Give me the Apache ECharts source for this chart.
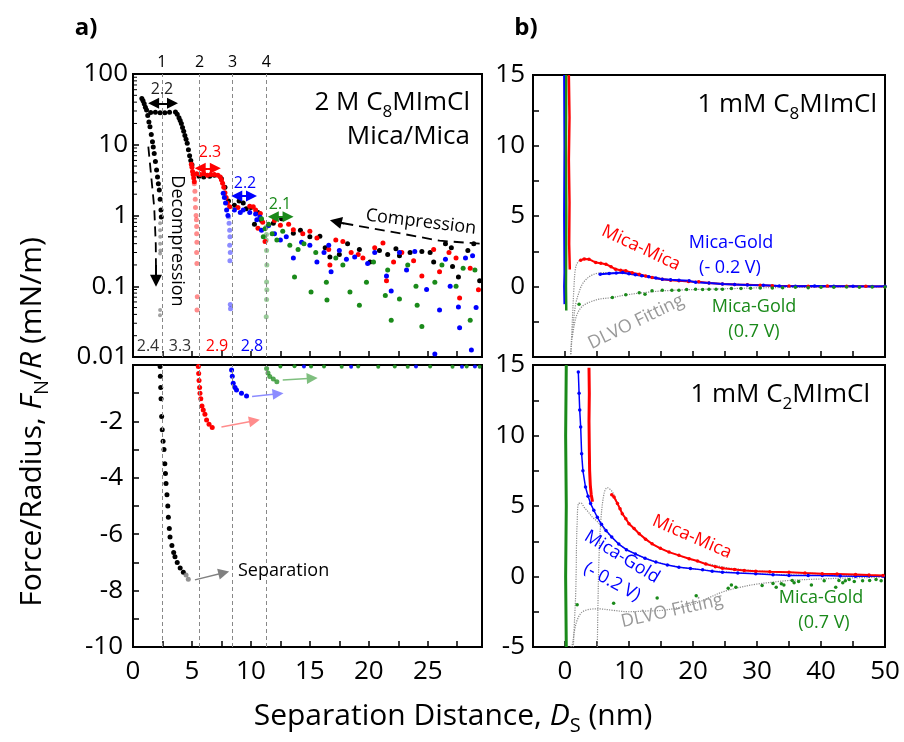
<!DOCTYPE html>
<html lang="en">
<head>
<meta charset="UTF-8">
<title>Force/Radius vs Separation Distance</title>
<script src="https://cdn.jsdelivr.net/npm/echarts@6/dist/echarts.min.js"></script>
</head>
<body style="margin: 0">
<div id="chart" style="width: 904px; height: 742px;"></div>
<script>
// ---------- panel a: 2 M C8MImCl, mica/mica ----------
const aStepX = [2.45, 5.65, 8.45, 11.3];
const aStepNames = ['1', '2', '3', '4'];

// compression (log panel)
const aBlackComp = [[0.75,45],[0.85,42],[0.95,38],[1.05,34],[1.15,31],[1.25,26],[1.35,21],[1.44,18],[1.55,14],[1.65,11],
  [1.72,9.3],[1.8,7.5],[1.9,5.8],[2.0,4.4],[2.08,3.5],[2.15,2.8],[2.23,2.3],[2.3,1.7],[2.37,1.2],[2.4,0.95],
  [1.5,28.5],[1.9,28.8],[2.3,28.4],[2.7,28.4],[3.1,28.7],
  [3.6,29],[3.75,27],[3.9,24],[4.0,22],[4.1,20],[4.2,17.5],[4.3,15.5],[4.4,13.5],[4.5,12],[4.6,10.5],[4.7,8.5],[4.8,7],[4.9,6],[5.0,5.2],
  [5.6,3.6],[6.0,3.5],[6.5,3.6],[6.9,3.7],[7.5,3.3],[7.8,2.5],[8.1,1.6],[8.6,1.4],[9.0,1.6],[9.35,1.5],[9.6,1.25],[10.0,1.3],
  [10.3,0.75],[10.6,1.1],[10.9,0.85],[11.9,0.78],[12.6,0.9],[13.6,0.56],[14.2,0.62],[15.0,0.5],[15.85,0.51],[16.3,0.35],
  [16.7,0.26],[17.5,0.28],[18.2,0.4],[19.2,0.33],[20.1,0.22],[20.9,0.32],[21.6,0.28],[22.3,0.34],[22.6,0.27],[23.5,0.3],
  [24.5,0.31],[25.2,0.3],[25.5,0.22],[26.5,0.4],[27.0,0.35],[27.1,0.19],[27.6,0.135],[28.4,0.32],[28.9,0.4],[29.4,0.12]];
const aRedComp = [[4.95,5.3],[5.0,4.8],[5.05,4.2],[5.1,3.8],[5.15,3.4],[5.2,3.0],
  [5.4,3.9],[5.7,3.8],[6.0,3.9],[6.3,3.7],[6.6,3.8],[6.9,3.8],[7.2,3.7],[7.4,3.5],
  [7.5,3.2],[7.6,2.85],[7.7,2.5],[7.8,2.1],[7.9,1.8],[8.0,1.5],[8.2,1.33],
  [8.9,1.3],[9.9,1.35],[10.2,1.33],[10.4,1.2],[10.6,0.66],[10.8,1.07],[11.0,0.8],[11.2,0.43],[12.0,0.85],[12.5,0.73],
  [13.2,0.75],[13.6,0.63],[14.4,0.55],[15.0,0.6],[15.6,0.48],[16.6,0.33],[16.7,0.2],[17.2,0.45],[17.8,0.43],[18.5,0.3],
  [19.1,0.28],[19.5,0.25],[20.5,0.35],[21.2,0.41],[21.5,0.12],[22.1,0.22],[22.8,0.3],[23.8,0.23],[24.5,0.14],[25.5,0.33],
  [26.0,0.16],[26.8,0.3],[27.4,0.25],[27.7,0.068],[28.6,0.18],[29.3,0.089]];
const aBlueComp = [[7.65,2.06],[7.75,1.8],[7.85,1.5],[7.94,1.2],[8.05,1.0],[8.6,1.2],[9.1,1.1],[9.35,1.2],[9.9,1.1],[10.4,1.05],
  [10.5,0.87],[10.76,0.95],[10.9,0.62],[11.5,0.72],[12.0,0.55],[12.5,0.45],[13.0,0.5],[13.6,0.25],[14.3,0.42],[15.0,0.38],
  [15.6,0.22],[16.2,0.3],[16.6,0.38],[16.8,0.16],[17.5,0.32],[18.1,0.24],[18.8,0.26],[19.9,0.21],[20.5,0.3],[21.5,0.14],
  [21.9,0.086],[22.6,0.3],[23.2,0.17],[23.9,0.31],[24.9,0.09],[25.6,0.011],[26.0,0.046],[26.5,0.24],[26.9,0.1],[27.6,0.051],
  [27.7,0.026],[28.2,0.25],[28.7,0.0126],[28.8,0.27],[29.1,0.05]];
const aGreenComp = [[10.9,0.9],[11.05,0.5],[11.2,0.65],[11.5,0.75],[11.8,0.55],[12.2,0.45],[12.7,0.6],[13.3,0.38],[13.7,0.135],
  [14.0,0.33],[14.5,0.4],[15.1,0.083],[15.5,0.3],[16.4,0.114],[16.45,0.064],[17.2,0.25],[17.8,0.2],[18.4,0.083],[19.2,0.054],
  [19.8,0.114],[20.4,0.22],[21.4,0.074],[21.6,0.17],[21.9,0.033],[22.6,0.066],[23.3,0.2],[24.0,0.1],[24.1,0.054],[24.5,0.027],
  [25.6,0.114],[26.2,0.2],[27.4,0.1],[28.0,0.18],[28.6,0.033],[29.0,0.17]];
// decompression (faded)
const aBlackDecomp = [[2.3,0.78],[2.3,0.62],[2.31,0.5],[2.3,0.4],[2.32,0.32],[2.3,0.29],[2.3,0.046],[2.29,0.039]];
const aRedDecomp = [[5.2,2.8],[5.25,2.2],[5.28,1.7],[5.3,1.3],[5.35,1.0],[5.38,0.87],[5.4,0.7],[5.4,0.55],[5.42,0.42],
  [5.4,0.3],[5.42,0.21],[5.45,0.071],[5.43,0.046]];
const aBlueDecomp = [[8.1,0.95],[8.15,0.78],[8.2,0.62],[8.22,0.5],[8.2,0.38],[8.25,0.3],[8.22,0.23],[8.25,0.055],[8.27,0.048]];
const aGreenDecomp = [[11.3,0.69],[11.32,0.54],[11.3,0.45],[11.33,0.32],[11.35,0.2],[11.33,0.115],[11.35,0.089],[11.33,0.065],[11.3,0.037]];

// separation (linear, negative panel)
const aBlackSep = [[2.3,-0.05],[2.32,-0.4],[2.35,-0.8],[2.38,-1.2],[2.43,-1.83],[2.48,-2.3],[2.55,-2.7],[2.63,-3.0],[2.7,-3.5],
  [2.75,-3.85],[2.8,-4.2],[2.88,-4.6],[2.95,-5.0],[3.0,-5.4],[3.08,-5.8],[3.14,-6.1],[3.3,-6.4],[3.45,-6.65],[3.56,-6.8],
  [3.75,-7.0],[4.0,-7.2],[4.27,-7.35]];
const aGreySep = [[4.5,-7.45],[4.69,-7.6]];
const aRedSep = [[5.54,-0.05],[5.57,-0.3],[5.6,-0.55],[5.65,-0.8],[5.68,-1.0],[5.75,-1.2],[5.85,-1.45],[5.96,-1.6],[6.1,-1.75],
  [6.24,-1.95],[6.45,-2.1],[6.72,-2.22]];
const aBlueSep = [[8.36,-0.18],[8.42,-0.4],[8.5,-0.65],[8.65,-0.8],[8.78,-0.89],[9.2,-1.0],[9.63,-1.1]];
const aGreenSep = [[11.33,-0.12],[11.45,-0.28],[11.6,-0.41],[11.9,-0.5],[12.2,-0.59]];
const aGreenZero = [[12.5,-0.05],[13.7,-0.04],[15.1,-0.05],[16.2,-0.05],[17.7,-0.06],[19.1,-0.05],[20.8,-0.06],[22.2,-0.05],
  [23.3,-0.06],[25.2,-0.05],[27.1,-0.06],[28.3,-0.05],[29.4,-0.06]];
const aBlueZero = [[14.5,-0.05],[18.5,-0.06],[24.0,-0.05],[27.9,-0.06],[29.0,-0.05]];

// ---------- panel b top: 1 mM C8MImCl ----------
const bTopRedStreak = [[0.6,15],[0.7,12],[0.6,9],[0.7,6],[0.65,3],[0.75,1.2]];
const bTopBlueStreak = [[-0.1,15],[-0.05,10],[-0.1,5],[-0.05,1],[-0.1,0],[-0.05,-1.25]];
const bTopGreenStreak = [[0.2,15],[0.15,10],[0.2,5],[0.15,0],[0.2,-1.7]];
const bTopRed = [[2.45,1.87],[3.0,1.95],[3.75,1.94],[4.8,1.7],[5.6,1.65],[6.4,1.58],[7.2,1.4],[7.9,1.23],[8.7,1.15],[9.5,1.11],
  [10.5,0.97],[11.6,0.87],[12.6,0.75],[13.6,0.64],[15.2,0.52],[16.5,0.45],[17.8,0.4],[19.3,0.36],[20.9,0.33],[22.5,0.25],
  [24.6,0.18],[26.5,0.14],[28.5,0.12],[30.5,0.08],[32.4,0.05],[35,0.04],[38,0.02],[41,0.03],[44,0.01],[47,0.02],[50,0.0]];
const bTopBlue = [[5.5,0.87],[6.9,0.92],[8.0,0.95],[9.0,0.99],[10.0,0.9],[11.0,0.83],[12.0,0.76],[13.1,0.69],[14.2,0.6],[15.2,0.52],
  [16.5,0.48],[17.8,0.45],[19.4,0.4],[20.4,0.3],[22.5,0.24],[24.6,0.17],[26.5,0.15],[28.5,0.1],[31,0.08],[33.5,0.04],[36,0.02],
  [39,0.03],[42,0.01],[45,0.02],[48,0.0],[50,0.01]];
const bTopGreen = [[2.2,-1.25],[7.4,-0.78],[9.5,-0.59],[11.6,-0.45],[12.5,-0.55],[13.6,-0.31],[15.2,-0.26],[16.7,-0.26],[17.8,-0.26],
  [19.0,-0.22],[20.4,-0.19],[21.5,-0.22],[22.5,-0.2],[23.6,-0.19],[24.6,-0.19],[26,-0.15],[27.5,-0.14],[29,-0.12],[30.5,-0.1],
  [32.4,-0.1],[34,-0.08],[36,-0.06],[38,-0.08],[40,-0.05],[42,-0.06],[44,-0.04],[46,-0.05],[48,-0.03],[50,-0.04]];
const bTopFitRed = [[0.9,-4.8],[1.15,-2.4],[1.4,-0.07],[1.67,1.35],[2.2,1.82],[3.2,2.0],[4.8,1.75],[6.4,1.55],[8,1.25],[10,1.0],
  [12,0.82],[15,0.56],[18,0.4],[22,0.27],[26,0.17],[30,0.1],[35,0.06],[40,0.04],[45,0.02],[50,0.01]];
const bTopFitBlue = [[0.9,-4.8],[1.3,-2.6],[1.67,-1.25],[2.2,-0.4],[2.7,0.16],[3.4,0.55],[4.3,0.83],[5.3,0.95],[6.4,0.99],[8,0.97],
  [10,0.88],[12,0.77],[15,0.55],[18,0.42],[22,0.27],[26,0.16],[30,0.1],[35,0.06],[40,0.03],[45,0.02],[50,0.01]];
const bTopFitGreen = [[1.15,-3.6],[1.5,-2.6],[1.9,-1.96],[2.5,-1.5],[3.2,-1.25],[4.2,-1.05],[5.3,-0.9],[7.4,-0.78],[9.5,-0.6],
  [12,-0.45],[15,-0.32],[18,-0.25],[22,-0.19],[26,-0.15],[30,-0.1],[35,-0.07],[40,-0.05],[45,-0.03],[50,-0.02]];

// ---------- panel b bottom: 1 mM C2MImCl ----------
const bBotGreenStreak = [[0.2,15],[0.1,10],[0.2,5],[0.1,0],[0.2,-5]];
const bBotRedStreak = [[3.75,14.8],[3.8,13],[3.75,11],[3.8,9],[3.85,7.5],[3.95,6.5],[4.1,5.8],[4.3,5.3]];
const bBotBlue = [[2.08,14.5],[2.2,13.0],[2.3,11.8],[2.45,10.6],[2.6,8.7],[2.8,7.5],[3.2,6.35],[3.6,5.7],[4.0,5.17],[4.5,4.7],
  [5.05,4.2],[5.7,3.7],[6.4,3.27],[7.3,2.8],[8.4,2.3],[9.6,1.9],[11.0,1.6],[12.5,1.3],[14.2,1.02],[16,0.82],[17.8,0.66],
  [19.6,0.56],[21.5,0.47],[23,0.38],[24.6,0.31],[27,0.25],[29.8,0.19],[32.5,0.12],[35,0.07],[38,0.07],[40.2,0.07],[43,0.04],
  [45.4,0.02],[47.5,0.03],[49.7,0.02]];
const bBotRed = [[7.3,5.8],[7.66,5.64],[8.2,5.17],[8.6,4.8],[8.95,4.45],[9.5,4.1],[10.0,3.74],[10.8,3.4],[11.6,3.03],[12.6,2.65],
  [13.6,2.32],[14.9,2.0],[16.25,1.73],[17.8,1.5],[19.4,1.26],[20.7,1.1],[22,0.88],[23.5,0.7],[24.6,0.58],[26.5,0.5],[28,0.43],
  [29.8,0.38],[32,0.34],[35,0.31],[37.5,0.25],[40.2,0.2],[42.5,0.18],[45.4,0.15],[47.5,0.1],[49.7,0.07]];
const bBotGreen = [[1.9,-2.0],[7.6,-1.9],[14.4,-1.52],[20.5,-1.37],[25.5,-0.83],[26.0,-0.6],[26.7,-0.76],[30.8,-0.64],[32.5,-0.5],
  [33.0,-0.76],[33.8,-0.52],[34.2,-0.6],[35.5,-0.28],[35.8,-0.45],[36.5,-0.35],[38.5,-0.6],[40.5,-0.3],[42.3,-0.76],[42.8,-0.28],
  [43.4,-0.45],[43.8,-0.3],[44.4,-0.22],[45.2,-0.35],[46.5,-0.3],[47.6,-0.28],[48.6,-0.22],[49.4,-0.3]];
const bBotFitBlue = [[1.3,-5],[1.5,-3],[1.67,-1.23],[1.75,0.5],[1.8,2.3],[1.9,3.8],[2.1,5.17],[2.5,5.2],[3.0,4.9],[3.6,4.6],
  [4.3,4.2],[5.05,3.9],[6.4,3.2],[8.4,2.3],[11,1.6],[14.2,1.05],[18,0.66],[22,0.45],[26,0.3],[30,0.2],[35,0.12],[40,0.07],
  [45,0.04],[50,0.02]];
const bBotFitRed = [[5.05,-5],[5.15,-2],[5.3,1.14],[5.6,3.98],[6.1,5.88],[6.6,6.3],[7.4,6.0],[8.2,5.2],[9.0,4.5],[10,3.75],
  [11.6,3.0],[13.6,2.3],[16.25,1.75],[19.4,1.25],[22,0.95],[25,0.65],[28,0.48],[32,0.35],[36,0.28],[40,0.2],[45,0.12],[50,0.06]];
const bBotFitGreen = [[0.9,-5],[1.15,-4.8],[1.5,-3.8],[1.9,-3.1],[2.5,-2.6],[3.2,-2.4],[4.5,-2.3],[5.3,-2.3],[7.5,-2.4],[10,-2.5],
  [12.5,-2.45],[15.2,-2.4],[17.8,-2.2],[20.4,-1.9],[22.5,-1.5],[24.6,-1.1],[27,-0.8],[29.8,-0.55],[32.5,-0.4],[35,-0.28],
  [40.2,-0.17],[45,-0.1],[49.7,-0.05]];

const FONT = 'Open Sans';
const RED = '#ff0000', BLUE = '#0000ff', GREEN = '#1a8a1a', BLACK = '#000000', GREY = '#999999';

const chart = echarts.init(document.getElementById('chart'));

const grids = [
  { left: 133, top: 74, width: 349, height: 283 },
  { left: 133, top: 365, width: 349, height: 282 },
  { left: 533, top: 75, width: 352, height: 282 },
  { left: 533, top: 365, width: 352, height: 282 }
].map(g => Object.assign(g, { show: true, borderColor: '#000', borderWidth: 2, backgroundColor: 'transparent' }));

const tick = { inside: true, length: 6, lineStyle: { color: '#000', width: 1.5 } };
const line = { onZero: false, lineStyle: { color: '#000', width: 2 } };
const lab = { color: '#000', fontSize: 26, fontFamily: FONT };

const xAxes = [
  { gridIndex: 0, type: 'value', min: 0, max: 29.6, interval: 2.5, axisLabel: { show: false } },
  { gridIndex: 1, type: 'value', min: 0, max: 29.6, interval: 2.5,
    axisLabel: Object.assign({ margin: 12, formatter: v => (v % 5 === 0 ? String(v) : '') }, lab) },
  { gridIndex: 2, type: 'value', min: -5, max: 50, interval: 5, axisLabel: { show: false } },
  { gridIndex: 3, type: 'value', min: -5, max: 50, interval: 5,
    axisLabel: Object.assign({ margin: 12, formatter: v => (v % 10 === 0 ? String(v) : '') }, lab) }
].map(a => Object.assign(a, { axisTick: tick, axisLine: line, splitLine: { show: false } }));

const yAxes = [
  { gridIndex: 0, type: 'log', logBase: 10, min: 0.01, max: 100,
    axisLabel: Object.assign({ margin: 5, formatter: v => String(+(+v).toPrecision(3)) }, lab) },
  { gridIndex: 1, type: 'value', min: -10, max: 0, interval: 1,
    axisLabel: Object.assign({ margin: 10, formatter: v => (v % 2 === 0 && v !== 0 ? String(v) : '') }, lab) },
  { gridIndex: 2, type: 'value', min: -5, max: 15, interval: 2.5,
    axisLabel: Object.assign({ margin: 8, formatter: v => (v % 5 === 0 && v !== -5 ? String(v) : '') }, lab) },
  { gridIndex: 3, type: 'value', min: -5, max: 15, interval: 2.5,
    axisLabel: Object.assign({ margin: 8, formatter: v => (v % 5 === 0 ? String(v) : '') }, lab) }
].map(a => Object.assign(a, { axisTick: tick, axisLine: line, splitLine: { show: false } }));

// minor ticks for the log axis (2..9 per decade)
const logMinor = [];
[0.01, 0.1, 1, 10].forEach(d => { for (let k = 2; k <= 9; k++) logMinor.push([0, +(d * k).toPrecision(2)]); });

function scatter(data, color, i, opacity, size) {
  return { type: 'scatter', xAxisIndex: i, yAxisIndex: i, data: data, symbolSize: size || 5, silent: true, z: 4,
    itemStyle: { color: color, opacity: opacity == null ? 1 : opacity } };
}
function curve(data, color, i, width, sym) {
  return { type: 'line', xAxisIndex: i, yAxisIndex: i, data: data, silent: true, z: 3,
    showSymbol: !!sym, symbol: 'circle', symbolSize: sym || 0,
    itemStyle: { color: color }, lineStyle: { color: color, width: width } };
}
function fit(data, i) {
  return { type: 'line', xAxisIndex: i, yAxisIndex: i, data: data, silent: true, z: 2, showSymbol: false,
    smooth: 0.35, lineStyle: { color: '#8c8c8c', width: 1.2, type: 'dotted' } };
}
function arrows(i, items, symbol, size, dashed) {
  return { type: 'lines', coordinateSystem: 'cartesian2d', xAxisIndex: i, yAxisIndex: i, silent: true, z: 5,
    symbol: symbol, symbolSize: size,
    data: items.map(a => ({ coords: a.c, lineStyle: { color: a.col, width: a.w || 2, type: dashed ? [9, 6] : 'solid', opacity: 1 } })),
    polyline: false };
}
function polyline(i, coords, color) {
  return { type: 'lines', coordinateSystem: 'cartesian2d', xAxisIndex: i, yAxisIndex: i, silent: true, z: 5, polyline: true,
    data: [{ coords: coords }], lineStyle: { color: color, width: 1.8, type: [10, 6], opacity: 1 } };
}
function stepLines(withLabel) {
  return { silent: true, symbol: 'none', animation: false,
    lineStyle: { color: '#888', width: 1, type: [4, 3] },
    label: { show: withLabel, position: 'end', distance: 4, formatter: '{b}', color: '#000', fontSize: 16, fontFamily: FONT },
    data: aStepX.map((v, k) => ({ xAxis: v, name: aStepNames[k] })) };
}

const series = [
  // panel a top
  Object.assign(scatter(aBlackDecomp, '#555', 0, 0.55, 4), { markLine: stepLines(true) }),
  scatter(aRedDecomp, RED, 0, 0.45, 5),
  scatter(aBlueDecomp, BLUE, 0, 0.45, 5),
  scatter(aGreenDecomp, GREEN, 0, 0.45, 5),
  scatter(aBlackComp, BLACK, 0),
  scatter(aRedComp, RED, 0),
  scatter(aBlueComp, BLUE, 0),
  scatter(aGreenComp, GREEN, 0),
  { type: 'custom', xAxisIndex: 0, yAxisIndex: 0, data: logMinor, silent: true, z: 6,
    renderItem: (p, api) => {
      const pt = api.coord([api.value(0), api.value(1)]);
      return { type: 'line', shape: { x1: pt[0], y1: pt[1], x2: pt[0] + 4, y2: pt[1] }, style: { stroke: '#000', lineWidth: 1 } };
    } },
  arrows(0, [
    { c: [[1.75, 38.5], [3.35, 38.5]], col: BLACK },
    { c: [[5.7, 4.64], [6.98, 4.64]], col: RED },
    { c: [[8.8, 1.89], [10.05, 1.89]], col: BLUE },
    { c: [[11.9, 0.96], [13.15, 0.96]], col: GREEN }
  ], ['triangle', 'triangle'], 11),
  polyline(0, [[1.3, 9.4], [1.55, 3.5], [1.8, 1.3], [1.93, 0.4], [1.95, 0.17]], BLACK),
  arrows(0, [{ c: [[1.95, 0.2], [1.95, 0.12]], col: BLACK }], ['none', 'triangle'], 12),
  polyline(0, [[29.4, 0.40], [26, 0.44], [22.9, 0.55], [19.8, 0.68], [17.6, 0.79]], BLACK),
  arrows(0, [{ c: [[17.9, 0.77], [17.2, 0.82]], col: BLACK }], ['none', 'triangle'], 12),
  // panel a bottom
  Object.assign(scatter(aBlackSep, BLACK, 1), { markLine: stepLines(false) }),
  scatter(aGreySep, '#777', 1, 0.8),
  scatter(aRedSep, RED, 1),
  scatter(aBlueSep, BLUE, 1),
  scatter(aGreenSep, GREEN, 1, 0.75),
  scatter(aGreenZero, GREEN, 1, 0.9, 4),
  scatter(aBlueZero, BLUE, 1, 0.9, 4),
  arrows(1, [
    { c: [[12.7, -0.53], [15.2, -0.47]], col: '#7fbf7f', w: 1.5 },
    { c: [[10.1, -1.12], [12.3, -1.02]], col: '#8c8cff', w: 1.5 },
    { c: [[7.5, -2.2], [10.3, -1.98]], col: '#ff8c8c', w: 1.5 },
    { c: [[5.25, -7.62], [7.7, -7.37]], col: '#808080', w: 1.5 }
  ], ['none', 'triangle'], 11),
  // panel b top
  fit(bTopFitRed, 2), fit(bTopFitBlue, 2), fit(bTopFitGreen, 2),
  curve(bTopBlueStreak, BLUE, 2, 2.5),
  curve(bTopGreenStreak, GREEN, 2, 2.5),
  curve(bTopRedStreak, RED, 2, 2.5),
  curve(bTopRed, RED, 2, 2, 3.5),
  curve(bTopBlue, BLUE, 2, 2, 3.5),
  scatter(bTopGreen, GREEN, 2, 1, 3.5),
  // panel b bottom
  fit(bBotFitBlue, 3), fit(bBotFitRed, 3), fit(bBotFitGreen, 3),
  curve(bBotGreenStreak, GREEN, 3, 3),
  curve(bBotRedStreak, RED, 3, 3),
  curve(bBotBlue, BLUE, 3, 1.5, 3.5),
  curve(bBotRed, RED, 3, 2, 3.5),
  scatter(bBotGreen, GREEN, 3, 1, 3.5)
];

// text annotations (pixel placed)
const sub = (size, lh, extra) => Object.assign({ fontSize: size, fontFamily: FONT, lineHeight: lh, verticalAlign: 'bottom' }, extra || {});
const notes = [
  { t: 'a)', x: 86, y: 28, size: 24, bold: true },
  { t: 'b)', x: 526, y: 28, size: 24, bold: true },
  { t: '2 M C{s|8}MImCl', x: 470, y: 103, size: 26, align: 'right', rich: { s: sub(17, 36) } },
  { t: 'Mica/Mica', x: 470, y: 137, size: 26, align: 'right' },
  { t: '2.2', x: 162, y: 89, size: 16, c: '#222' },
  { t: '2.3', x: 210, y: 152, size: 16, c: RED },
  { t: '2.2', x: 245, y: 183, size: 16, c: BLUE },
  { t: '2.1', x: 280, y: 204, size: 16, c: GREEN },
  { t: '2.4', x: 148, y: 346, size: 16, c: '#333' },
  { t: '3.3', x: 180, y: 346, size: 16, c: '#333' },
  { t: '2.9', x: 217, y: 346, size: 16, c: RED },
  { t: '2.8', x: 252, y: 346, size: 16, c: BLUE },
  { t: 'Decompression', x: 177, y: 241, size: 18, rot: -Math.PI / 2 },
  { t: 'Compression', x: 421, y: 222, size: 18, rot: -0.12 },
  { t: 'Separation', x: 238, y: 571, size: 18, align: 'left' },
  { t: '1 mM C{s|8}MImCl', x: 877, y: 105, size: 26, align: 'right', rich: { s: sub(17, 36) } },
  { t: 'Mica-Mica', x: 641, y: 248, size: 18, c: RED, rot: -0.44 },
  { t: 'Mica-Gold', x: 731, y: 243, size: 18, c: BLUE },
  { t: '(- 0.2 V)', x: 730, y: 268, size: 18, c: BLUE },
  { t: 'DLVO Fitting', x: 636, y: 322, size: 18, c: GREY, rot: 0.45 },
  { t: 'Mica-Gold', x: 754, y: 307, size: 18, c: GREEN },
  { t: '(0.7 V)', x: 754, y: 332, size: 18, c: GREEN },
  { t: '1 mM C{s|2}MImCl', x: 870, y: 395, size: 26, align: 'right', rich: { s: sub(17, 36) } },
  { t: 'Mica-Mica', x: 692, y: 537, size: 18, c: RED, rot: -0.41 },
  { t: 'Mica-Gold', x: 622, y: 557, size: 18, c: BLUE, rot: -0.55 },
  { t: '(- 0.2 V)', x: 612, y: 582, size: 18, c: BLUE, rot: -0.5 },
  { t: 'DLVO Fitting', x: 672, y: 611, size: 18, c: GREY, rot: 0.22 },
  { t: 'Mica-Gold', x: 821, y: 598, size: 18, c: GREEN },
  { t: '(0.7 V)', x: 824, y: 623, size: 18, c: GREEN },
  { t: 'Force/Radius, {i|F}{s|N}/{i|R} (mN/m)', x: 32, y: 422, size: 30, rot: Math.PI / 2,
    rich: { i: { fontSize: 30, fontFamily: FONT, fontStyle: 'italic', fill: '#000' }, s: sub(20, 40, { fill: '#000' }) } },
  { t: 'Separation Distance, {i|D}{s|S} (nm)', x: 453, y: 716, size: 30,
    rich: { i: { fontSize: 30, fontFamily: FONT, fontStyle: 'italic', fill: '#000' }, s: sub(20, 40, { fill: '#000' }) } }
];

const graphic = notes.map(n => ({
  type: 'text', x: n.x, y: n.y, rotation: n.rot || 0, silent: true, z: 10,
  style: {
    text: n.t, fill: n.c || '#000',
    font: (n.bold ? 'bold ' : '') + n.size + 'px "' + FONT + '"',
    fontSize: n.size, fontFamily: FONT, fontWeight: n.bold ? 'bold' : 'normal',
    align: n.align || 'center', verticalAlign: 'middle',
    textAlign: n.align || 'center', textVerticalAlign: 'middle',
    rich: n.rich
  }
}));

chart.setOption({
  animation: false,
  textStyle: { fontFamily: FONT },
  grid: grids,
  xAxis: xAxes,
  yAxis: yAxes,
  series: series,
  graphic: graphic
});
</script>
</body>
</html>
